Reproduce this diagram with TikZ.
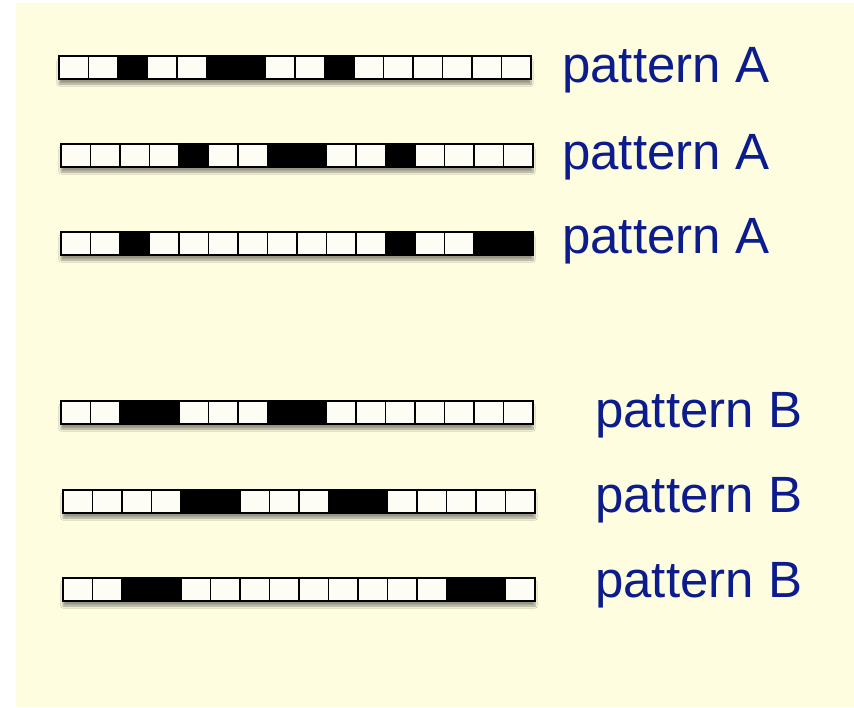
\documentclass[tikz,border=0pt]{standalone}
\usepackage{fontspec}
\setmainfont{Liberation Sans}
\usepackage{tikz}
\usetikzlibrary{shadows.blur}

\definecolor{paper}{RGB}{254,253,224}
\definecolor{labelblue}{RGB}{12,28,140}
\definecolor{offcell}{RGB}{253,253,246}

\begin{document}
\begin{tikzpicture}[x=1pt,y=-1pt,
    cell/.style={draw=black,line width=1.4pt,fill=offcell,inner sep=0pt,outer sep=0pt,
                 minimum width=29.5pt,minimum height=23pt},
    oncell/.style={cell,fill=black},
    lab/.style={text=labelblue,inner sep=0pt,anchor=base west,
                font=\fontsize{51}{60}\selectfont}]
    \useasboundingbox (0,0) rectangle (854,707);
    \fill[white] (0,0) rectangle (854,707);
    \fill[paper] (16,3) rectangle (854,707);

    % six rows of 16 cells, 1 = black
    \foreach \row/\x/\y/\bits in {
        1/59/67.5/{0,0,1,0,0,1,1,0,0,1,0,0,0,0,0,0},
        2/61/155.5/{0,0,0,0,1,0,0,1,1,0,0,1,0,0,0,0},
        3/61/243.5/{0,0,1,0,0,0,0,0,0,0,0,1,0,0,1,1},
        4/61/412.5/{0,0,1,1,0,0,0,1,1,0,0,0,0,0,0,0},
        5/63/501.5/{0,0,0,0,1,1,0,0,0,1,1,0,0,0,0,0},
        6/63/589.5/{0,0,1,1,0,0,0,0,0,0,0,0,0,1,1,0}} {
        \path[blur shadow={shadow xshift=0pt,shadow yshift=-5pt,shadow opacity=40,shadow blur steps=8}]
            (\x,\y-11.5) rectangle (\x+472,\y+11.5);
        \foreach \b [count=\i] in \bits {
            \ifnum\b=1
                \node[oncell] (r\row c\i) at ({\x+(\i-0.5)*29.5},\y) {};
            \else
                \node[cell] (r\row c\i) at ({\x+(\i-0.5)*29.5},\y) {};
            \fi
        }
    }

    \node[lab] (labA1) at (562,82) {pattern A};
    \node[lab] (labA2) at (562,169) {pattern A};
    \node[lab] (labA3) at (562,253) {pattern A};
    \node[lab] (labB1) at (595,427) {pattern B};
    \node[lab] (labB2) at (595,512) {pattern B};
    \node[lab] (labB3) at (595,597) {pattern B};
\end{tikzpicture}
\end{document}
